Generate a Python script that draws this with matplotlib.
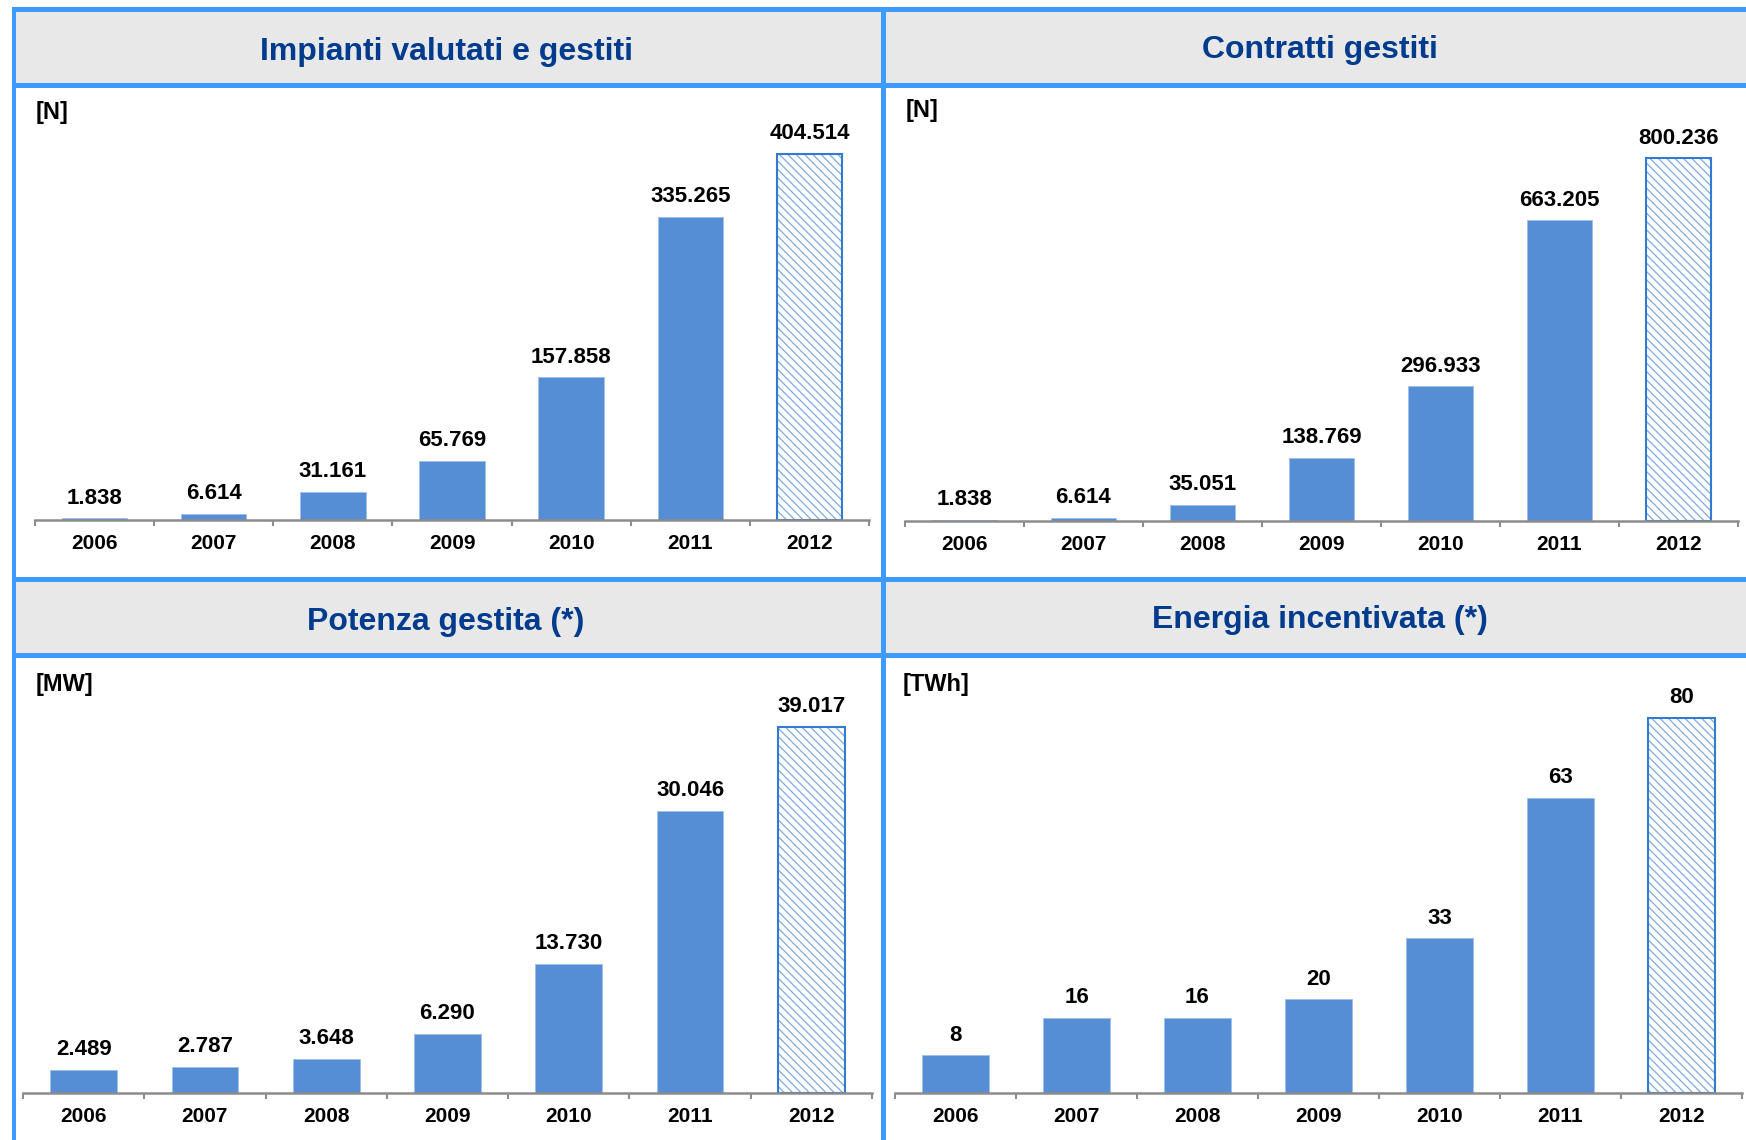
import numpy as np
import matplotlib
matplotlib.use("Agg")
import matplotlib.pyplot as plt
from matplotlib.patches import Rectangle

plt.rcParams['font.family'] = ['Liberation Sans', 'DejaVu Sans']
plt.rcParams['hatch.linewidth'] = 0.9

years = ['2006', '2007', '2008', '2009', '2010', '2011', '2012']
impianti = [1838, 6614, 31161, 65769, 157858, 335265, 404514]
contratti = [1838, 6614, 35051, 138769, 296933, 663205, 800236]
potenza = [2489, 2787, 3648, 6290, 13730, 30046, 39017]
energia = [8, 16, 16, 20, 33, 63, 80]

titles = ['Impianti valutati e gestiti', 'Contratti gestiti',
          'Potenza gestita (*)', 'Energia incentivata (*)']
units = ['[N]', '[N]', '[MW]', '[TWh]']

W, H = 1746, 1140
BLUE = '#3D9BFF'
GRAY = '#E8E8E8'
TITLE = '#003B8E'
BAR = '#558ED5'
HATCH = '#7FAAE0'
EDGE = '#2F7CD0'

fig = plt.figure(figsize=(W / 100, H / 100), dpi=100)

# background frame drawn in pixel space
bg = fig.add_axes([0, 0, 1, 1], zorder=-5)
bg.set_xlim(0, W)
bg.set_ylim(H, 0)
bg.axis('off')


def box(x0, y0, x1, y1, color):
    bg.add_patch(Rectangle((x0, y0), x1 - x0, y1 - y0, color=color, lw=0))


box(16, 12, W, 83, GRAY)
box(16, 582, W, 653, GRAY)
box(12, 7, W, 12, BLUE)
box(12, 83, W, 88, BLUE)
box(12, 577, W, 582, BLUE)
box(12, 653, W, 658, BLUE)
box(12, 7, 16, H, BLUE)
box(881, 7, 886, H, BLUE)

# header titles and units (pixel coords)
tkw = dict(ha='center', va='center', fontsize=23, fontweight='bold', color=TITLE)
bg.text(446, 52, titles[0], **tkw)
bg.text(1320, 50, titles[1], **tkw)
bg.text(446, 622, titles[2], **tkw)
bg.text(1320, 620, titles[3], **tkw)

ukw = dict(ha='left', va='center', fontsize=17, fontweight='bold')
bg.text(36, 112, units[0], **ukw)
bg.text(906, 110, units[1], **ukw)
bg.text(36, 684, units[2], **ukw)
bg.text(903, 684, units[3], **ukw)


def panel(x0, x1, ytop, ybase, vals, ymax):
    ax = fig.add_axes([x0 / W, 1 - ybase / H, (x1 - x0) / W, (ybase - ytop) / H])
    x = np.arange(len(vals))
    ax.bar(x[:-1], vals[:-1], width=0.55, color=BAR, edgecolor='#9DC0EA', lw=0.6)
    # 2012 estimate: hatched bar
    ax.bar(x[-1], vals[-1], width=0.55, color='white', hatch='\\\\\\\\',
           edgecolor=HATCH, lw=0)
    ax.bar(x[-1], vals[-1], width=0.55, fill=False, edgecolor=EDGE, lw=1.5)
    for xi, v in zip(x, vals):
        ax.annotate(f"{v:,}".replace(",", "."), (xi, v), xytext=(0, 7),
                    textcoords='offset points', ha='center', va='bottom',
                    fontsize=16, fontweight='bold')
    ax.set_xlim(-0.5, len(vals) - 0.5)
    ax.set_ylim(0, ymax)
    for s in ['top', 'right', 'left']:
        ax.spines[s].set_visible(False)
    ax.spines['bottom'].set_color('#8C8C8C')
    ax.spines['bottom'].set_linewidth(1.8)
    ax.set_yticks([])
    ax.set_xticks(x)
    ax.set_xticklabels(years, fontsize=15, fontweight='bold')
    ax.tick_params(axis='x', which='major', length=0, pad=10)
    ax.set_xticks(np.arange(-0.5, len(vals)), minor=True)
    ax.tick_params(axis='x', which='minor', length=4, width=1.5, color='#8C8C8C')
    ax.patch.set_alpha(0)
    return ax


panel(35, 869, 95, 520, impianti, 470000)
panel(905, 1738, 95, 521, contratti, 940000)
panel(23, 872, 665, 1093, potenza, 45600)
panel(895, 1742, 665, 1093, energia, 91.3)

fig.savefig('out.png', dpi=100)
